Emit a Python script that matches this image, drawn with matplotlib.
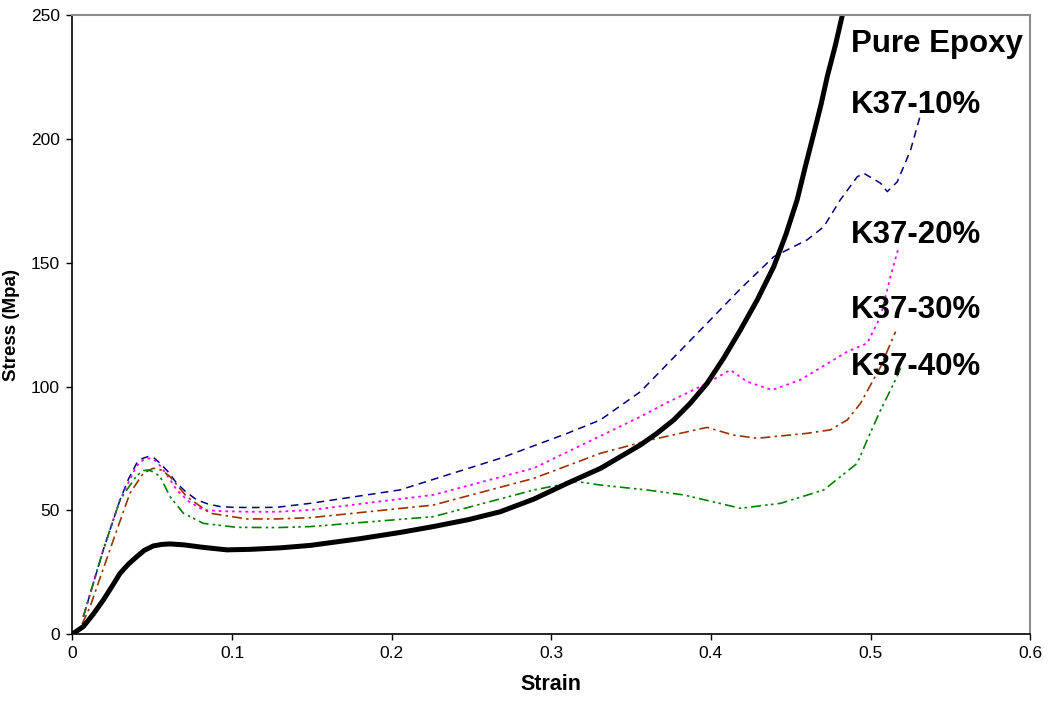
import matplotlib.pyplot as plt

plt.rcParams['font.family'] = ['Liberation Sans', 'DejaVu Sans']

# ---------------- curves ----------------
epoxy_x = [0, 0.0068, 0.013, 0.0193, 0.025, 0.0298, 0.035, 0.0402, 0.045, 0.0507,
           0.056, 0.0611, 0.07, 0.082, 0.0967, 0.1113, 0.13, 0.149, 0.18, 0.205,
           0.226, 0.248, 0.268, 0.289, 0.31, 0.331, 0.3558, 0.366, 0.3767, 0.387,
           0.3976, 0.408, 0.4185, 0.429, 0.4394, 0.447, 0.454, 0.459, 0.4645,
           0.469, 0.4729, 0.478, 0.4823]
epoxy_y = [0, 3, 8, 13.7, 19.5, 24.5, 28.2, 31.2, 33.8, 35.6,
           36.2, 36.4, 36.0, 35.0, 34.0, 34.2, 34.8, 35.8, 38.5, 41.0,
           43.4, 46.2, 49.4, 54.5, 60.9, 67, 76.4, 81, 86.5, 93.2,
           101.3, 111.5, 122.9, 135.0, 148.5, 161.5, 175.4, 188.5, 202.4,
           214, 225.3, 238, 250]

k10_x = [0.0068, 0.0193, 0.0298, 0.035, 0.0402, 0.044, 0.0475, 0.051, 0.0549, 0.06,
         0.0653, 0.0715, 0.0779, 0.085, 0.0925, 0.1, 0.1113, 0.128, 0.149, 0.205,
         0.268, 0.310, 0.3307, 0.3558, 0.3976, 0.4185, 0.4394, 0.4603, 0.4707, 0.481,
         0.4917, 0.4958, 0.5063, 0.5105, 0.5168, 0.5251, 0.5313]
k10_y = [7, 34, 54.2, 62.5, 69, 71, 71.7, 71.2, 69, 65.5,
         60.9, 57.2, 54.2, 52.5, 51.5, 51.2, 51.1, 51.2, 52.8, 58.2,
         71, 81.1, 86.5, 97.9, 125.6, 139.5, 152.5, 159.3, 164.6, 175.4,
         184.8, 186.2, 182.2, 178.8, 182.8, 195.6, 209.8]

k20_x = [0.0068, 0.0193, 0.0298, 0.0402, 0.0445, 0.0486, 0.0515, 0.0549, 0.06, 0.0653,
         0.073, 0.082, 0.095, 0.1113, 0.128, 0.149, 0.226, 0.289, 0.3307, 0.3558,
         0.3725, 0.395, 0.4122, 0.4227, 0.4384, 0.456, 0.4854, 0.4979, 0.5063,
         0.5125, 0.5177]
k20_y = [7, 34, 54.2, 68, 70.4, 71, 70.2, 68, 63.5, 58.2,
         53.5, 50.1, 49.6, 49.4, 49.4, 50.1, 56.2, 67, 80, 87.8,
         93.5, 100.5, 106.7, 102, 98.6, 102.7, 114.1, 117.5, 128.3,
         144.4, 156.5]

k30_x = [0.006, 0.011, 0.0256, 0.036, 0.0444, 0.0507, 0.056, 0.0611, 0.0716, 0.0862,
         0.1092, 0.128, 0.149, 0.226, 0.289, 0.3307, 0.362, 0.3976, 0.414, 0.429,
         0.4603, 0.4749, 0.4854, 0.4937, 0.5063, 0.5157]
k30_y = [4, 11, 38, 56.9, 65, 67, 66.2, 63.6, 55.5, 48.8,
         46.5, 46.5, 47, 52.1, 62.9, 73, 78.4, 83.5, 80.4, 79.1,
         81.1, 82.5, 86.5, 93.2, 108, 122.2]

k40_x = [0.0068, 0.0193, 0.0298, 0.0402, 0.0445, 0.0475, 0.051, 0.0549, 0.0611, 0.0695,
         0.082, 0.103, 0.128, 0.149, 0.226, 0.289, 0.316, 0.3307, 0.36, 0.383,
         0.4185, 0.4436, 0.4707, 0.4917, 0.4979, 0.5063, 0.5146, 0.5188]
k40_y = [7, 34, 54.2, 64, 66, 66.3, 65.4, 63.6, 55.5, 48.8,
         44.7, 43.1, 43, 43.4, 47.4, 58.2, 61.6, 60.2, 58.2, 56.2,
         50.8, 52.8, 58.2, 69, 78.4, 90.5, 101.3, 107.4]

labels = ["Pure Epoxy", "K37-10%", "K37-20%", "K37-30%", "K37-40%"]
label_y = [235.2, 210.6, 158, 127.7, 104.7]
label_x = 0.4875

fig = plt.figure(figsize=(10.49, 7.03), dpi=100)
ax = fig.add_axes([0.0691, 0.0982, 0.9129, 0.8798])

ax.plot(k10_x, k10_y, color="#000080", lw=1.1, dashes=[5, 3.5])
ax.plot(k20_x, k20_y, color="#FF00FF", lw=1.3, dashes=[1.5, 2.2])
ax.plot(k30_x, k30_y, color="#993300", lw=1.2, dashes=[6, 2.5, 1.5, 2.5])
ax.plot(k40_x, k40_y, color="#008000", lw=1.2, dashes=[6, 2.5, 1.5, 2, 1.5, 2.5])
ax.plot(epoxy_x, epoxy_y, color="black", lw=3.6, solid_joinstyle="round")

for lab, ly in zip(labels, label_y):
    ax.text(label_x, ly, lab, fontsize=22.5, fontweight="bold", va="baseline", ha="left")

ax.set_xlim(0, 0.6)
ax.set_ylim(0, 250)
ax.set_xticks([0, 0.1, 0.2, 0.3, 0.4, 0.5, 0.6])
ax.set_xticklabels(["0", "0.1", "0.2", "0.3", "0.4", "0.5", "0.6"])
ax.set_yticks([0, 50, 100, 150, 200, 250])
ax.tick_params(labelsize=12.5, length=4, width=1, direction="out", pad=5)
ax.tick_params(top=False, right=False)

for s in ["top", "right"]:
    ax.spines[s].set_color("#8c8c8c")
    ax.spines[s].set_linewidth(1.5)
for s in ["left", "bottom"]:
    ax.spines[s].set_color("black")
    ax.spines[s].set_linewidth(1.2)

ax.set_xlabel("Strain", fontsize=15.5, fontweight="bold", labelpad=9)
ax.set_ylabel("Stress (Mpa)", fontsize=13.5, fontweight="bold", labelpad=8)

fig.savefig("out.png", dpi=100)
